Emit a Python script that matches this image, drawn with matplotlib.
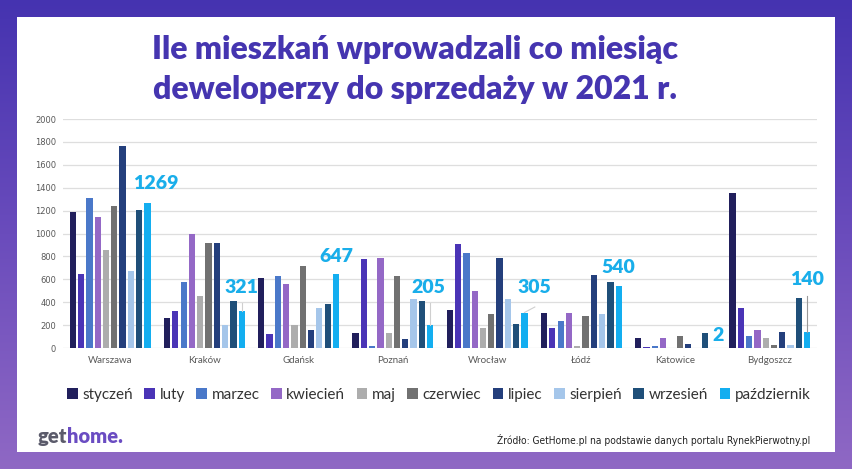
import numpy as np
import matplotlib
matplotlib.use("Agg")
import matplotlib.pyplot as plt
from matplotlib.patches import Rectangle, Patch
from matplotlib.colors import LinearSegmentedColormap

# data
cities = ["Warszawa", "Kraków", "Gdańsk", "Poznań", "Wrocław", "Łódź", "Katowice", "Bydgoszcz"]
months = ["styczeń", "luty", "marzec", "kwiecień", "maj", "czerwiec",
          "lipiec", "sierpień", "wrzesień", "październik"]
styczen = [1189, 262, 615, 134, 332, 309, 90, 1358]
luty = [650, 321, 120, 775, 912, 178, 6, 347]
marzec = [1312, 580, 629, 20, 828, 239, 20, 105]
kwiecien = [1146, 1000, 556, 784, 496, 309, 85, 160]
maj = [854, 458, 199, 134, 172, 15, 0, 87]
czerwiec = [1242, 921, 714, 630, 300, 280, 108, 29]
lipiec = [1764, 921, 161, 79, 790, 641, 35, 143]
sierpien = [673, 198, 345, 426, 426, 300, 0, 23]
wrzesien = [1204, 408, 383, 411, 207, 577, 128, 434]
pazdziernik = [1269, 321, 647, 205, 305, 540, 2, 140]
series = [styczen, luty, marzec, kwiecien, maj, czerwiec, lipiec, sierpien, wrzesien, pazdziernik]

colors = ["#211f5c", "#4a34b6", "#4a78c9", "#9468c6", "#adadad", "#717171",
          "#243f7c", "#a5c6ea", "#1f4f79", "#13aef0"]

W, H = 852, 469
fig = plt.figure(figsize=(W / 100, H / 100), dpi=100)

# purple gradient background + white panel
bg = fig.add_axes([0, 0, 1, 1], zorder=-10)
cmap = LinearSegmentedColormap.from_list("bg", ["#4533b0", "#6a4cbc", "#8f68c4"])
grad = np.linspace(0, 1, 256).reshape(-1, 1)
bg.imshow(grad, aspect="auto", cmap=cmap, extent=[0, 1, 0, 1], origin="upper")
bg.add_patch(Rectangle((17 / W, 1 - 452 / H), (835 - 17) / W, (452 - 17) / H,
                       facecolor="white", edgecolor="none"))
bg.set_xlim(0, 1)
bg.set_ylim(0, 1)
bg.axis("off")

ax = fig.add_axes([63 / W, 1 - 348 / H, (817 - 63) / W, (348 - 119) / H])
x = np.arange(len(cities))
pitch = 0.088
width = 0.066
for j, vals in enumerate(series):
    ax.bar(x + (j - 4.5) * pitch, vals, width=width, color=colors[j], label=months[j], zorder=3)

ax.set_xlim(-0.5, len(cities) - 0.5)
ax.set_ylim(0, 2000)
ax.set_yticks(np.arange(0, 2001, 200))
ax.grid(axis="y", color="#dedede", linewidth=0.9, zorder=0)
for s in ax.spines.values():
    s.set_visible(False)
ax.tick_params(length=0)
ax.tick_params(axis="y", labelsize=6, labelcolor="#595959", pad=5)
ax.set_xticks(x)
ax.set_xticklabels(cities, fontsize=7, color="#595959", family="Lato")
ax.tick_params(axis="x", pad=6)

# labels for the last month
last = x + 4.5 * pitch
lab_fs = 14
offsets = {0: (0.085, 165), 1: (0, 205), 2: (0, 155), 3: (-0.02, 320),
           4: (0.11, 220), 5: (0, 160), 6: (0.05, 110), 7: (0, 455)}
for i, v in enumerate(pazdziernik):
    dx, dy = offsets[i]
    ax.text(last[i] + dx, v + dy, str(v), ha="center", va="center", fontsize=lab_fs,
            fontweight="heavy", family="Lato", color="#19aeea", zorder=5)
# leader lines
ax.plot([last[1], last[1]], [pazdziernik[1], 390], color="#cfcfcf", lw=0.8, zorder=4)
ax.plot([last[3], last[3]], [pazdziernik[3], 390], color="#cfcfcf", lw=0.8, zorder=4)
ax.plot([last[4], last[4] + 0.11], [pazdziernik[4] + 5, 358], color="#cfcfcf", lw=0.8, zorder=4)
ax.plot([last[7], last[7]], [pazdziernik[7], 455], color="#999999", lw=0.8, zorder=4)

# title
fig.text(0.487, 1 - 50 / H, "Ile mieszkań wprowadzali co miesiąc", ha="center", va="center",
         fontsize=23, fontweight="heavy", family="Lato", color="#4535b0")
fig.text(0.487, 1 - 89 / H, "deweloperzy do sprzedaży w 2021 r.", ha="center", va="center",
         fontsize=23, fontweight="heavy", family="Lato", color="#4535b0")

# legend
handles = [Patch(facecolor=c, edgecolor="none") for c in colors]
leg = fig.legend(handles, months, loc="center", bbox_to_anchor=(0.515, 1 - 395 / H), ncol=10,
                 frameon=False, handlelength=0.7, handleheight=0.7,
                 handletextpad=0.3, columnspacing=0.75,
                 prop={"family": "Lato", "size": 11})
for t in leg.get_texts():
    t.set_color("#333333")

# logo and source
renderer = fig.canvas.get_renderer()
t_get = fig.text(38 / W, 1 - 436 / H, "get", fontsize=14.5, fontweight="heavy", family="Lato",
                 color="#5b5b6b", va="center", ha="left")
bb = t_get.get_window_extent(renderer=renderer)
fig.text(bb.x1 / W, 1 - 436 / H, "home.", fontsize=14.5, fontweight="heavy",
         family="Lato", color="#6a4cc2", va="center", ha="left")
fig.text(810 / W, 1 - 440 / H, "Źródło: GetHome.pl na podstawie danych portalu RynekPierwotny.pl",
         fontsize=7.3, family="DejaVu Sans", stretch="condensed", color="#222222",
         va="center", ha="right")

fig.savefig("out.png", dpi=100)
